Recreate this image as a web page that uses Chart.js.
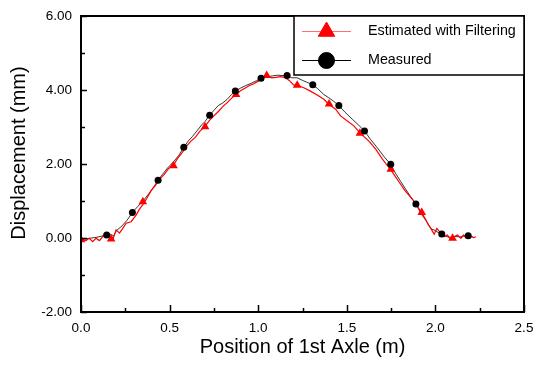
<!DOCTYPE html>
<html>
<head>
<meta charset="utf-8">
<script src="https://cdn.jsdelivr.net/npm/chart.js@4/dist/chart.umd.min.js"></script>
<style>
  html, body { margin: 0; padding: 0; background: #fff; }
  #wrap { width: 536px; height: 368px; }
</style>
</head>
<body>
<div id="wrap"><canvas id="chart" width="536" height="368"></canvas></div>
<script>
// Estimated with Filtering (red line)
const estX = [0.000, 0.028, 0.047, 0.066, 0.085, 0.104, 0.123, 0.141, 0.160, 0.179, 0.198, 0.217, 0.236, 0.255, 0.283, 0.311, 0.330, 0.349, 0.370, 0.396,
  0.420, 0.445, 0.470, 0.495, 0.522, 0.545, 0.570, 0.595, 0.620, 0.645, 0.670, 0.700, 0.725, 0.750, 0.775, 0.800, 0.825, 0.850, 0.875, 0.900,
  0.925, 0.950, 0.975, 1.000, 1.025, 1.048, 1.075, 1.100, 1.125, 1.150, 1.175, 1.200, 1.225, 1.257, 1.295, 1.342, 1.370, 1.400, 1.437, 1.465,
  1.503, 1.540, 1.578, 1.625, 1.663, 1.700, 1.725, 1.748, 1.775, 1.800, 1.825, 1.850, 1.875, 1.900, 1.923, 1.946, 1.960, 1.974, 1.993, 2.008,
  2.030, 2.050, 2.068, 2.083, 2.097, 2.110, 2.125, 2.144, 2.159, 2.172, 2.185, 2.200, 2.215, 2.228];
const estY = [-0.03, -0.07, -0.01, -0.10, -0.01, -0.07, 0.04, 0.08, 0.03, -0.05, 0.22, 0.13, 0.26, 0.40, 0.44, 0.62, 0.78, 0.90, 1.06, 1.28,
  1.42, 1.60, 1.72, 1.88, 1.97, 2.15, 2.30, 2.48, 2.62, 2.72, 2.88, 3.02, 3.18, 3.30, 3.42, 3.55, 3.66, 3.78, 3.88, 3.98,
  4.05, 4.12, 4.17, 4.24, 4.32, 4.39, 4.33, 4.34, 4.36, 4.34, 4.26, 4.14, 4.12, 4.06, 3.97, 3.84, 3.75, 3.61, 3.48, 3.30,
  3.16, 3.03, 2.82, 2.62, 2.40, 2.14, 1.98, 1.85, 1.65, 1.48, 1.30, 1.16, 1.02, 0.84, 0.68, 0.49, 0.36, 0.26, 0.10, 0.26,
  0.13, 0.04, 0.08, -0.03, -0.01, 0.05, 0.08, -0.01, 0.08, 0.01, 0.05, 0.04, 0.01, 0.035];

// Measured (black line)
const measX = [0.000, 0.030, 0.060, 0.090, 0.115, 0.145, 0.165, 0.185, 0.200, 0.230, 0.260, 0.290, 0.320, 0.350, 0.380, 0.410, 0.435, 0.460, 0.490, 0.520,
  0.550, 0.580, 0.605, 0.630, 0.655, 0.680, 0.700, 0.726, 0.750, 0.775, 0.800, 0.825, 0.850, 0.871, 0.900, 0.930, 0.960, 0.990, 1.016, 1.050,
  1.080, 1.110, 1.140, 1.163, 1.190, 1.220, 1.250, 1.280, 1.308, 1.335, 1.370, 1.395, 1.425, 1.455, 1.490, 1.531, 1.565, 1.600, 1.635, 1.672,
  1.710, 1.748, 1.775, 1.805, 1.835, 1.860, 1.890, 1.920, 1.950, 1.975, 2.000, 2.015, 2.036, 2.060, 2.085, 2.110, 2.140, 2.165, 2.185, 2.210];
const measY = [-0.05, -0.02, 0.00, 0.02, 0.05, 0.08, 0.10, 0.06, 0.20, 0.32, 0.48, 0.69, 0.85, 1.00, 1.18, 1.38, 1.56, 1.72, 1.90, 2.05,
  2.22, 2.45, 2.62, 2.75, 2.90, 3.05, 3.15, 3.32, 3.45, 3.58, 3.65, 3.75, 3.88, 3.97, 4.05, 4.12, 4.18, 4.25, 4.32, 4.36,
  4.38, 4.40, 4.39, 4.39, 4.33, 4.33, 4.26, 4.20, 4.14, 4.04, 3.88, 3.80, 3.70, 3.58, 3.40, 3.21, 3.06, 2.89, 2.66, 2.44,
  2.20, 1.99, 1.75, 1.52, 1.30, 1.12, 0.92, 0.65, 0.45, 0.25, 0.20, 0.15, 0.11, 0.04, 0.02, 0.04, 0.03, 0.06, 0.06, 0.04];

// symbol positions
const estMarkX = [0.000, 0.170, 0.349, 0.522, 0.700, 0.875, 1.048, 1.220, 1.400, 1.574, 1.748, 1.923, 2.097];
const estMarkY = [-0.05, -0.03, 0.98, 1.95, 3.01, 3.88, 4.39, 4.13, 3.62, 2.83, 1.86, 0.69, -0.01];
const measMarkX = [0.145, 0.290, 0.435, 0.580, 0.726, 0.871, 1.016, 1.163, 1.308, 1.455, 1.600, 1.748, 1.890, 2.036, 2.185];
const measMarkY = [0.08, 0.69, 1.56, 2.45, 3.32, 3.97, 4.32, 4.39, 4.14, 3.58, 2.89, 1.99, 0.92, 0.11, 0.06];

const legendLabels = ['Estimated with Filtering', 'Measured'];
const xTitle = 'Position of 1st Axle (m)';
const yTitle = 'Displacement (mm)';

const FONT = "'Liberation Sans', Arial, sans-serif";

function pts(xs, ys) {
  return xs.map((x, i) => ({ x: x, y: ys[i] }));
}

// frame, inner ticks, axis titles and the boxed legend
const decor = {
  id: 'decor',
  afterDatasetsDraw(chart) {
    const ctx = chart.ctx;
    const a = chart.chartArea;
    const xs = chart.scales.x, ys = chart.scales.y;
    ctx.save();
    ctx.strokeStyle = '#000';
    ctx.lineWidth = 2;
    ctx.strokeRect(a.left, a.top, a.right - a.left, a.bottom - a.top);

    ctx.lineWidth = 1.5;
    ctx.beginPath();
    for (let v = -2; v <= 6; v += 1) {
      const py = Math.round(ys.getPixelForValue(v)) + 0.5;
      const len = (v % 2 === 0) ? 6 : 4;
      ctx.moveTo(a.left, py); ctx.lineTo(a.left + len, py);
    }
    for (let k = 0; k <= 10; k++) {
      const px = Math.round(xs.getPixelForValue(k * 0.25)) + 0.5;
      const len = (k % 2 === 0) ? 7 : 4;
      ctx.moveTo(px, a.bottom); ctx.lineTo(px, a.bottom - len);
    }
    ctx.stroke();

    // axis titles
    ctx.fillStyle = '#000';
    ctx.font = '20px ' + FONT;
    ctx.textAlign = 'center';
    ctx.textBaseline = 'alphabetic';
    ctx.fillText(xTitle, (a.left + a.right) / 2, 353);
    ctx.save();
    ctx.translate(25, (a.top + a.bottom) / 2 - 11);
    ctx.rotate(-Math.PI / 2);
    ctx.fillText(yTitle, 0, 0);
    ctx.restore();

    // legend box
    const bx = 294, by = a.top, bw = a.right - 294, bh = 59;
    ctx.fillStyle = '#fff';
    ctx.fillRect(bx, by, bw, bh);
    ctx.lineWidth = 1.5;
    ctx.strokeStyle = '#000';
    ctx.strokeRect(bx, by, bw, bh);

    const rows = [
      { y: 31.5, line: '#ff7070', color: '#ff0000', style: 'triangle', r: 9.5, text: legendLabels[0] },
      { y: 60.5, line: '#000', color: '#000', style: 'circle', r: 8, text: legendLabels[1] }
    ];
    rows.forEach(row => {
      ctx.strokeStyle = row.line;
      ctx.lineWidth = 1;
      ctx.beginPath();
      ctx.moveTo(302, row.y); ctx.lineTo(351, row.y);
      ctx.stroke();
      ctx.fillStyle = row.color;
      ctx.strokeStyle = row.color;
      Chart.helpers.drawPoint(ctx, { pointStyle: row.style, radius: row.r, rotation: 0, borderWidth: 1 }, 326.5, row.y);
      ctx.fillStyle = '#000';
      ctx.font = '14.3px ' + FONT;
      ctx.textAlign = 'left';
      ctx.textBaseline = 'middle';
      ctx.fillText(row.text, 368, row.y);
    });
    ctx.restore();
  }
};

new Chart(document.getElementById('chart'), {
  type: 'scatter',
  data: {
    datasets: [
      {
        label: legendLabels[1] + ' symbols', data: pts(measMarkX, measMarkY), order: 0,
        showLine: false, pointStyle: 'circle', pointRadius: 3.5,
        backgroundColor: '#000', borderColor: '#000', borderWidth: 0
      },
      {
        label: legendLabels[0] + ' symbols', data: pts(estMarkX, estMarkY), order: 1,
        showLine: false, pointStyle: 'triangle', pointRadius: 5,
        backgroundColor: '#ff0000', borderColor: '#ff0000', borderWidth: 0
      },
      {
        label: legendLabels[0], data: pts(estX, estY), order: 2,
        showLine: true, pointRadius: 0, borderColor: '#ff0000', borderWidth: 1.2, tension: 0
      },
      {
        label: legendLabels[1], data: pts(measX, measY), order: 3,
        showLine: true, pointRadius: 0, borderColor: '#000', borderWidth: 0.8, tension: 0
      }
    ]
  },
  options: {
    responsive: false,
    animation: false,
    layout: { padding: { top: 16, right: 12, left: 0, bottom: 0 } },
    plugins: { legend: { display: false }, tooltip: { enabled: false } },
    scales: {
      x: {
        type: 'linear', min: 0, max: 2.5,
        grid: { display: false, drawTicks: false }, border: { display: false },
        ticks: { stepSize: 0.5, padding: 8, color: '#000', font: { family: FONT, size: 13.5 },
          callback: v => v.toFixed(1) },
        afterFit: s => { s.height = 56; s.paddingLeft = 0; s.paddingRight = 0; }
      },
      y: {
        type: 'linear', min: -2, max: 6,
        grid: { display: false, drawTicks: false }, border: { display: false },
        ticks: { stepSize: 2, padding: 9, color: '#000', font: { family: FONT, size: 13.5 },
          callback: v => v.toFixed(2) },
        afterFit: s => { s.width = 81; s.paddingTop = 0; s.paddingBottom = 0; }
      }
    }
  },
  plugins: [decor]
});
</script>
</body>
</html>
